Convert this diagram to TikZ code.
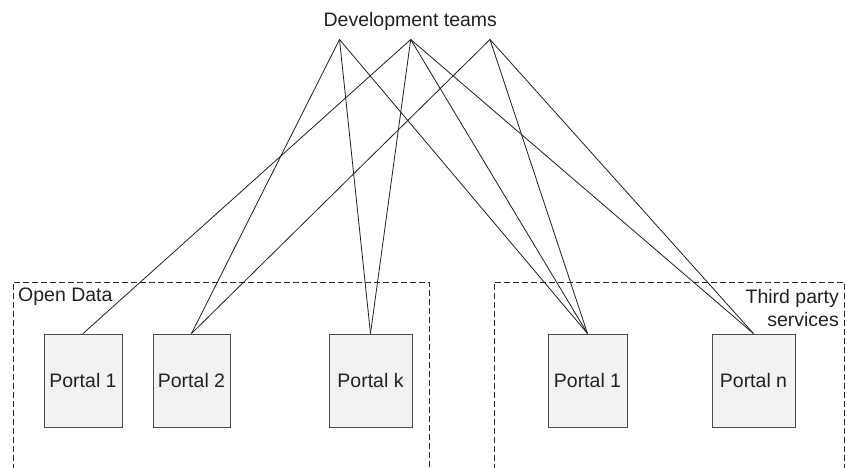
\documentclass[tikz,border=0pt]{standalone}
\usepackage{fontspec}
\setmainfont{Liberation Sans}
\begin{document}
\begin{tikzpicture}[x=1pt,y=-1pt,
  txt/.style={font=\fontsize{19.5}{23}\selectfont, text=black!87, inner sep=0pt},
  portal/.style={draw=black!70, fill=black!5, line width=0.9pt, minimum height=93pt, inner sep=0pt,
    font=\fontsize{19.5}{23}\selectfont, text=black!87},
  link/.style={draw=black!88, line width=0.8pt},
  group/.style={draw=black!85, line width=0.9pt, dash pattern=on 6pt off 3pt}]
\useasboundingbox (0,0) rectangle (847,468);
% groups
\draw[group] (13,470) -- (13,282) -- (429,282) -- (429,470);
\draw[group] (494,470) -- (494,282) -- (844,282) -- (844,470);
\node[txt, anchor=west] (od) at (18,297) {Open Data};
\node[txt, anchor=east, align=right] (tp) at (839,308.5) {Third party\\services};
% title
\node[txt] (dev) at (410.3,21) {Development teams};
\coordinate (ta) at (339.5,39.5);
\coordinate (tb) at (410.7,39.5);
\coordinate (tc) at (490,39.5);
% portals
\node[portal, minimum width=78pt] (p1) at (83,380.5) {Portal 1};
\node[portal, minimum width=77pt] (p2) at (191.5,380.5) {Portal 2};
\node[portal, minimum width=83pt] (pk) at (370.5,380.5) {Portal k};
\node[portal, minimum width=79pt] (q1) at (587.5,380.5) {Portal 1};
\node[portal, minimum width=83pt] (qn) at (753.5,380.5) {Portal n};
% links
\draw[link] (ta) -- (p2.north);
\draw[link] (ta) -- (pk.north);
\draw[link] (ta) -- (q1.north);
\draw[link] (tb) -- (p1.north);
\draw[link] (tb) -- (pk.north);
\draw[link] (tb) -- (q1.north);
\draw[link] (tb) -- (qn.north);
\draw[link] (tc) -- (p2.north);
\draw[link] (tc) -- (q1.north);
\draw[link] (tc) -- (qn.north);
\end{tikzpicture}
\end{document}
